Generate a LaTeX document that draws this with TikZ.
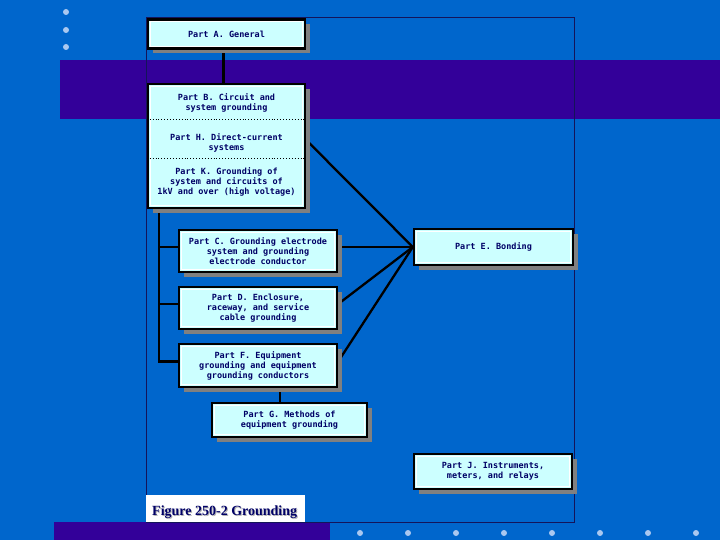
\documentclass[tikz,border=0pt]{standalone}
\usepackage{fontspec}
\setmainfont{Liberation Serif}
\newfontfamily\monof{DejaVu Sans Mono}
\usetikzlibrary{shadows,calc}
\definecolor{bgblue}{RGB}{0,102,204}
\definecolor{bandc}{RGB}{51,0,153}
\definecolor{boxfill}{RGB}{204,255,255}
\definecolor{navy}{RGB}{0,0,102}
\definecolor{dotc}{RGB}{170,200,240}
\definecolor{framec}{RGB}{20,20,90}
\pgfdeclarelayer{back}
\pgfdeclarelayer{lines}
\pgfsetlayers{back,lines,main}
\begin{document}
\begin{tikzpicture}[x=1pt,y=-1pt,
  box/.style={draw=black, line width=2.4pt, fill=boxfill, inner sep=0pt, align=center,
    text=navy, font=\monof\bfseries\fontsize{8.5}{10}\selectfont,
    drop shadow={shadow xshift=5pt, shadow yshift=-5pt, fill=gray, opacity=1},
    path picture={\draw[white, line width=1pt]
      ([shift={(2.2pt,-2.2pt)}]path picture bounding box.north west) rectangle
      ([shift={(-2.2pt,2.2pt)}]path picture bounding box.south east);}},
  txt/.style={inner sep=0pt, align=center, text=navy, font=\monof\bfseries\fontsize{8.5}{10}\selectfont},
  conn/.style={draw=black, line width=2.3pt},
  dot/.style={fill=dotc}]
\useasboundingbox (0,0) rectangle (720,540);
\begin{pgfonlayer}{back}
  \fill[bgblue] (0,0) rectangle (720,540);
  \fill[bandc] (60,60) rectangle (720,119);
  \fill[bandc] (54,522) rectangle (330,540);
  \draw[framec, line width=0.8pt] (146,17) rectangle (574,522);
  \foreach \yy in {12,30,47} \fill[dot] (66,\yy) circle (3pt);
  \foreach \xx in {360,408,456,504,552,600,648,696} \fill[dot] (\xx,533) circle (3pt);
\end{pgfonlayer}

\node[box, minimum width=157pt, minimum height=29pt] (a) at (226.5,34) {Part A. General};
\node[box, minimum width=157pt, minimum height=124pt] (bhk) at (226.5,146) {};
\node[txt] (b) at (226.5,103) {Part B. Circuit and\\system grounding};
\node[txt] (h) at (226.5,143) {Part H. Direct-current\\systems};
\node[txt] (k) at (226.5,182) {Part K. Grounding of\\system and circuits of\\1kV and over (high voltage)};
\draw[dotted, line width=0.9pt] ([yshift=27pt]bhk.west) -- ([yshift=27pt]bhk.east);
\draw[dotted, line width=0.9pt] ([yshift=-12pt]bhk.west) -- ([yshift=-12pt]bhk.east);

\node[box, minimum width=158pt, minimum height=42pt] (c) at (258,251) {Part C. Grounding electrode\\system and grounding\\electrode conductor};
\node[box, minimum width=158pt, minimum height=42pt] (d) at (258,308) {Part D. Enclosure,\\raceway, and service\\cable grounding};
\node[box, minimum width=158pt, minimum height=43pt] (f) at (258,365.5) {Part F. Equipment\\grounding and equipment\\grounding conductors};
\node[box, minimum width=155pt, minimum height=34pt] (g) at (289.5,420) {Part G. Methods of\\equipment grounding};
\node[box, minimum width=159pt, minimum height=36pt] (e) at (493.5,247) {Part E. Bonding};
\node[box, minimum width=158pt, minimum height=35pt] (j) at (493,471.5) {Part J. Instruments,\\meters, and relays};

\node[fill=white, inner sep=0pt, minimum width=159pt, minimum height=27pt, anchor=north west] (fig) at (146,495) {};
\node[anchor=base west, inner sep=0pt, text=gray!60, font=\bfseries\fontsize{14}{14}\selectfont] at (153,516) {Figure 250-2 Grounding};
\node[anchor=base west, inner sep=0pt, text=navy, font=\bfseries\fontsize{14}{14}\selectfont] (figt) at (152,515) {Figure 250-2 Grounding};

\begin{pgfonlayer}{lines}
  \draw[conn] ([xshift=-3pt]a.south) -- ([xshift=-3pt]bhk.north);
  \coordinate (t) at ($(bhk.south west)+(12,0)$);
  \draw[conn] (t) |- ([yshift=4pt]c.west);
  \draw[conn] (t) |- ([yshift=4pt]d.west);
  \draw[conn] (t) |- ([yshift=4pt]f.west);
  \draw[conn] ([yshift=6pt]bhk.east) -- (e.west);
  \draw[conn] ([yshift=4pt]c.east) -- (e.west);
  \draw[conn] ([yshift=4pt]d.east) -- (e.west);
  \draw[conn] ([yshift=4pt]f.east) -- (e.west);
  \draw[conn] ([xshift=22pt]f.south) -- ([xshift=-9.5pt]g.north);
\end{pgfonlayer}
\end{tikzpicture}
\end{document}
